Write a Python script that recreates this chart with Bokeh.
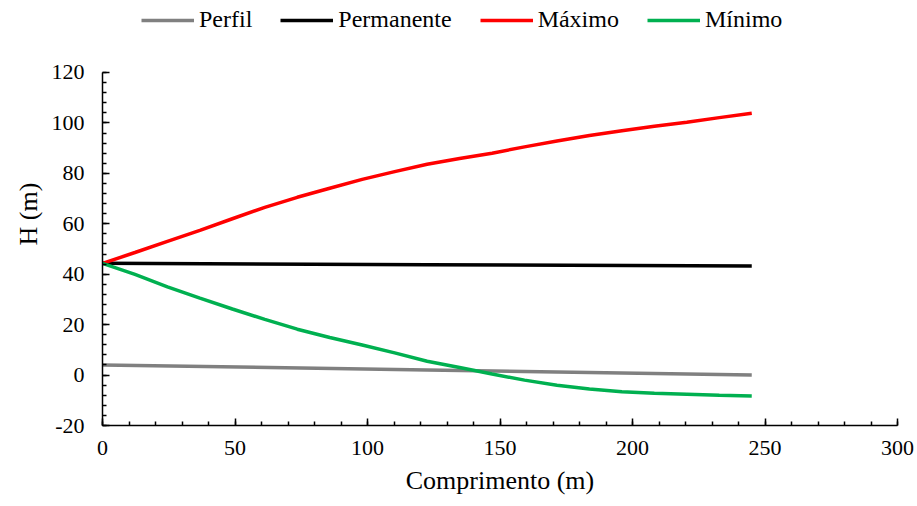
from bokeh.plotting import figure
from bokeh.models import Legend, LegendItem, Range1d, FixedTicker
from bokeh.embed import file_html
from bokeh.resources import INLINE

x_curve = [0, 12.25, 24.5, 36.75, 49, 61.25, 73.5, 85.75, 98, 110.25, 122.5,
           134.75, 147, 159.25, 171.5, 183.75, 196, 208.25, 220.5, 232.75, 245]
maximo = [44.3, 48.6, 53.0, 57.4, 62.0, 66.5, 70.5, 74.1, 77.6, 80.7, 83.6,
          85.9, 88.0, 90.5, 92.8, 95.0, 96.9, 98.7, 100.3, 102.1, 103.8]
minimo = [44.3, 39.9, 35.0, 30.5, 26.2, 22.1, 18.2, 14.9, 11.9, 8.8, 5.5,
          3.0, 0.4, -2.0, -4.0, -5.5, -6.6, -7.2, -7.6, -8.0, -8.3]
x_lin = [0, 122.5, 245]
perfil = [4.0, 2.0, 0.0]
permanente = [44.3, 43.8, 43.3]
x_ticks = [0, 50, 100, 150, 200, 250, 300]
y_ticks = [-20, 0, 20, 40, 60, 80, 100, 120]

FONT = "Liberation Serif"

# frame spans full height; extra headroom above 120 holds the legend
p = figure(width=917, height=506, output_backend="svg",
           toolbar_location=None, x_range=Range1d(0, 300), y_range=Range1d(-20, 147.76),
           min_border_left=102, min_border_right=20, min_border_top=2, min_border_bottom=81)
p.outline_line_color = None
p.grid.visible = False

LW = 3.5
r1 = p.line(x_lin, perfil, line_color="#808080", line_width=LW)
r2 = p.line(x_lin, permanente, line_color="#000000", line_width=LW)
r3 = p.line(x_curve, maximo, line_color="#FF0000", line_width=LW)
r4 = p.line(x_curve, minimo, line_color="#00B050", line_width=LW)

p.axis.axis_line_color = "black"
p.axis.axis_line_width = 1.5
p.axis.major_tick_in = 7
p.axis.major_tick_out = 0
p.axis.minor_tick_in = 4
p.axis.minor_tick_out = 0
p.axis.major_tick_line_width = 1.5
p.axis.minor_tick_line_width = 1.5
p.axis.major_label_text_font = FONT
p.axis.major_label_text_font_size = "22px"
p.axis.major_label_text_color = "black"
p.axis.axis_label_text_font = FONT
p.axis.axis_label_text_font_size = "26px"
p.axis.axis_label_text_font_style = "normal"
p.axis.axis_label_text_color = "black"

p.xaxis.bounds = (x_ticks[0], x_ticks[-1])
p.yaxis.bounds = (y_ticks[0], y_ticks[-1])
p.xaxis.major_label_standoff = 15
p.yaxis.major_label_standoff = 18
p.xaxis.ticker = FixedTicker(ticks=x_ticks, minor_ticks=list(range(0, 301, 10)))
p.yaxis.ticker = FixedTicker(ticks=y_ticks, minor_ticks=list(range(-20, 121, 4)))
p.yaxis.major_label_overrides = {-20: "-20"}
p.xaxis.axis_label = "Comprimento (m)"
p.yaxis.axis_label = "H (m)"
p.xaxis.axis_label_standoff = 8
p.yaxis.axis_label_standoff = 6

legend = Legend(items=[
    LegendItem(label="Perfil", renderers=[r1]),
    LegendItem(label="Permanente", renderers=[r2]),
    LegendItem(label="Máximo", renderers=[r3]),
    LegendItem(label="Mínimo", renderers=[r4]),
], orientation="horizontal", location=(39, 392))
legend.label_text_font = FONT
legend.label_text_font_size = "24px"
legend.label_text_color = "black"
legend.glyph_width = 53
legend.glyph_height = 24
legend.label_height = 24
legend.spacing = 28
legend.label_standoff = 5
legend.border_line_color = None
legend.background_fill_alpha = 0
legend.padding = 0
legend.margin = 0
p.add_layout(legend, "center")

open("out.html", "w").write(file_html(p, INLINE))
